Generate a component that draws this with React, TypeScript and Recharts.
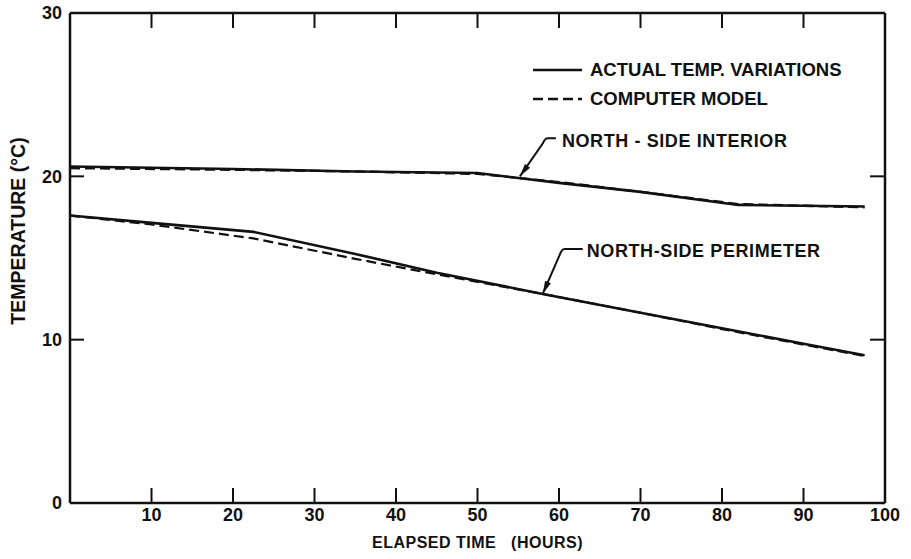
import React from 'react';
import { LineChart, Line, XAxis, YAxis, Legend, ReferenceDot } from 'recharts';

// elapsed hours / temperature (°C)
const interiorActualHours = [0, 20, 35, 50, 60, 70, 82, 90, 97.5];
const interiorActualTemps = [20.6, 20.45, 20.3, 20.2, 19.6, 19.05, 18.25, 18.2, 18.15];
const interiorModelHours = [0, 20, 35, 50, 60, 70, 82, 90, 97.5];
const interiorModelTemps = [20.5, 20.4, 20.3, 20.15, 19.65, 19.05, 18.3, 18.2, 18.1];

const perimeterActualHours = [0, 10, 22.5, 35, 45, 58, 70, 80, 90, 97.5];
const perimeterActualTemps = [17.6, 17.15, 16.6, 15.25, 14.1, 12.8, 11.65, 10.7, 9.75, 9.05];
const perimeterModelHours = [0, 10, 22.5, 35, 45, 58, 70, 80, 90, 97.5];
const perimeterModelTemps = [17.6, 17.05, 16.2, 14.95, 14.0, 12.8, 11.65, 10.65, 9.7, 9.0];

const xTicks = [10, 20, 30, 40, 50, 60, 70, 80, 90, 100];
const topTicks = [10, 20, 30, 40, 50, 60, 70, 80, 90];
const yTicks = [0, 10, 20, 30];
const rightTicks = [10, 20];
const yMax = 30;

const ACTUAL = 'ACTUAL TEMP. VARIATIONS';
const MODEL = 'COMPUTER MODEL';
const legendNames = [ACTUAL, MODEL];
const interiorNote = { hours: 55.2, temp: 20.0, text: 'NORTH - SIDE INTERIOR' };
const perimeterNote = { hours: 58, temp: 12.8, text: 'NORTH-SIDE PERIMETER' };

const toPoints = (hours: number[], temps: number[]) => hours.map((h, i) => ({ hours: h, temp: temps[i] }));

const FONT = '"Liberation Sans", Arial, sans-serif';
const INK = '#111';
const tickStyle = { fontSize: 18, fontWeight: 700, fill: INK, fontFamily: FONT };
const noLabel = () => <g />;

// short inward mark hanging from the top frame
const TopTick = (p: any) => <line x1={p.cx} x2={p.cx} y1={p.cy} y2={p.cy + 15} stroke={INK} strokeWidth={2} />;

function LegendBox({ payload }: any) {
  const items = (payload || []).filter((p: any) => legendNames.includes(p.value));
  return (
    <div style={{ fontFamily: FONT, fontWeight: 700, fontSize: 18.5, color: INK }}>
      {items.map((p: any) => (
        <div key={p.value} style={{ display: 'flex', alignItems: 'center', height: 29 }}>
          <svg width={50} height={10}>
            <line x1={0} x2={49} y1={5} y2={5} stroke={INK} strokeWidth={2.5}
              strokeDasharray={p.value === MODEL ? '10 5' : undefined} />
          </svg>
          <span style={{ marginLeft: 7, whiteSpace: 'nowrap' }}>{p.value}</span>
        </div>
      ))}
    </div>
  );
}

// leader + arrowhead pointing at (cx, cy), text off to the upper right
function Callout({ cx, cy, text, path, knee, tx, ty }: any) {
  const len = Math.hypot(knee[0], knee[1]);
  const ux = -knee[0] / len;
  const uy = -knee[1] / len;
  const bx = cx - ux * 13;
  const by = cy - uy * 13;
  const head = `${cx},${cy} ${bx - uy * 3.2},${by + ux * 3.2} ${bx + uy * 3.2},${by - ux * 3.2}`;
  return (
    <g>
      <path d={path(cx, cy)} fill="none" stroke={INK} strokeWidth={2} />
      <polygon points={head} fill={INK} />
      <text x={cx + tx} y={cy + ty} fontFamily={FONT} fontWeight={700} fontSize={18} letterSpacing={0.6} fill={INK}>
        {text}
      </text>
    </g>
  );
}

export default function App() {
  const perimeterActual = toPoints(perimeterActualHours, perimeterActualTemps);
  return (
    <div style={{ position: 'absolute', left: 0, top: 0, background: '#fff' }}>
      <LineChart width={911} height={559} margin={{ top: 12, right: 25, bottom: 0, left: 69 }}>
        <XAxis xAxisId={0} dataKey="hours" type="number" domain={[0, 100]} ticks={xTicks} interval={0}
          height={56} stroke={INK} strokeWidth={2.5} tickSize={-15} tickMargin={20} tick={tickStyle}
          tickLine={{ stroke: INK, strokeWidth: 2 }}
          label={{ value: 'ELAPSED TIME\u00a0\u00a0 (HOURS)', position: 'insideBottom', offset: 11, fontSize: 16, fontWeight: 700, fill: INK, fontFamily: FONT, letterSpacing: 0.5 }} />
        <XAxis xAxisId="top" orientation="top" dataKey="hours" type="number" domain={[0, 100]} ticks={topTicks}
          interval={0} height={1} stroke={INK} strokeWidth={2.5} tickLine={false} tick={noLabel} />
        <YAxis yAxisId={0} type="number" domain={[0, yMax]} ticks={yTicks} interval={0} width={1}
          stroke={INK} strokeWidth={2.5} tickSize={-14} tickMargin={22} tick={tickStyle}
          tickLine={{ stroke: INK, strokeWidth: 2 }}
          label={{
            content: ({ viewBox }: any) => (
              <text transform={`translate(${viewBox.x - 51},${viewBox.y + viewBox.height / 2 - 27}) rotate(-90)`}
                textAnchor="middle" dominantBaseline="central" fontFamily={FONT} fontWeight={700} fontSize={19.5} fill={INK}>
                TEMPERATURE (°C)
              </text>
            ),
          }} />
        <YAxis yAxisId="right" orientation="right" type="number" domain={[0, yMax]} ticks={rightTicks} interval={0}
          width={1} stroke={INK} strokeWidth={2.5} tickSize={-15} tick={noLabel}
          tickLine={{ stroke: INK, strokeWidth: 2 }} />

        <Legend content={<LegendBox />} layout="vertical" align="center" verticalAlign="middle"
          wrapperStyle={{ left: 533, top: 55, width: 360, height: 60 }} />

        {/* invisible copy so the right frame axis gets a scale and draws its ticks */}
        <Line data={perimeterActual} dataKey="temp" xAxisId="top" yAxisId="right" name="frame"
          legendType="none" stroke="none" dot={false} activeDot={false} isAnimationActive={false} />

        <Line data={toPoints(interiorActualHours, interiorActualTemps)} dataKey="temp" name="interior actual"
          legendType="none" stroke={INK} strokeWidth={2.6} dot={false} isAnimationActive={false} />
        <Line data={toPoints(interiorModelHours, interiorModelTemps)} dataKey="temp" name="interior model"
          legendType="none" stroke={INK} strokeWidth={2.3} strokeDasharray="10 5" dot={false} isAnimationActive={false} />
        <Line data={perimeterActual} dataKey="temp" name={ACTUAL}
          stroke={INK} strokeWidth={2.6} dot={false} isAnimationActive={false} />
        <Line data={toPoints(perimeterModelHours, perimeterModelTemps)} dataKey="temp" name={MODEL}
          stroke={INK} strokeWidth={2.2} strokeDasharray="10 5" dot={false} isAnimationActive={false} />

        {topTicks.map((t) => (
          <ReferenceDot key={t} x={t} y={yMax} ifOverflow="visible" shape={TopTick} />
        ))}

        <ReferenceDot x={interiorNote.hours} y={interiorNote.temp} ifOverflow="visible"
          shape={(p: any) => (
            <Callout cx={p.cx} cy={p.cy} text={interiorNote.text} knee={[24, -33]} tx={42} ty={-29}
              path={(x: number, y: number) => `M${x + 36},${y - 38} L${x + 28},${y - 38} Q${x + 25},${y - 38} ${x + 23},${y - 33} L${x},${y}`} />
          )} />
        <ReferenceDot x={perimeterNote.hours} y={perimeterNote.temp} ifOverflow="visible"
          shape={(p: any) => (
            <Callout cx={p.cx} cy={p.cy} text={perimeterNote.text} knee={[17, -38]} tx={44} ty={-37}
              path={(x: number, y: number) => `M${x + 40},${y - 45} L${x + 22},${y - 45} Q${x + 19},${y - 45} ${x + 17},${y - 39} L${x},${y}`} />
          )} />
      </LineChart>
    </div>
  );
}
